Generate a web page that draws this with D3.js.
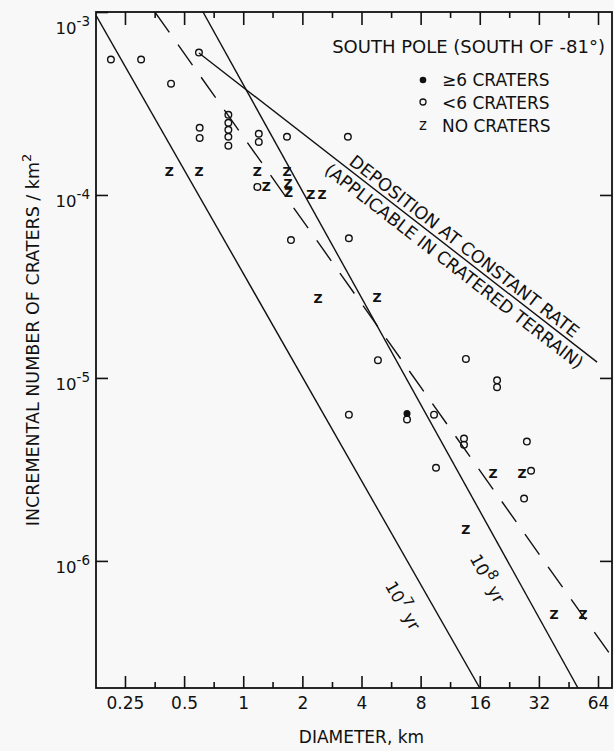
<!DOCTYPE html>
<html>
<head>
<meta charset="utf-8">
<script src="https://cdn.jsdelivr.net/npm/d3@7"></script>
<style>
  body { margin: 0; background: #f8f8f8; }
  figure { margin: 0; }
  svg { display: block; font-family: "DejaVu Sans", sans-serif; }
  text { fill: #111; }
</style>
</head>
<body>
<figure></figure>
<script>
// diameter (km) ticks, bottom and top
const diamTicks = [0.25, 0.5, 1, 2, 4, 8, 16, 32, 64]
const diamLabels = ["0.25", "0.5", "1", "2", "4", "8", "16", "32", "64"]
const diamMinor = [0.354, 0.707, 1.41, 2.83, 5.66, 11.3, 22.6, 45.3]
// incremental number of craters per km^2
const countTicks = [1e-3, 1e-4, 1e-5, 1e-6]
const countExp = ["-3", "-4", "-5", "-6"]

// [diameter, number]
const fewCraters = [
  [0.212, 5.5e-4], [0.302, 5.5e-4], [0.429, 4.06e-4], [0.595, 6.0e-4],
  [0.60, 2.33e-4], [0.60, 2.05e-4],
  [0.84, 2.74e-4], [0.84, 2.48e-4], [0.84, 2.27e-4], [0.84, 2.08e-4], [0.84, 1.86e-4],
  [1.20, 2.16e-4], [1.20, 1.95e-4], [1.67, 2.08e-4], [1.18, 1.106e-4],
  [1.75, 5.67e-5], [3.41, 2.08e-4], [3.45, 5.8e-5],
  [4.85, 1.25e-5], [13.6, 1.27e-5], [19.6, 9.7e-6], [19.6, 8.9e-6],
  [3.45, 6.3e-6], [6.82, 5.93e-6], [9.36, 6.3e-6],
  [13.3, 4.66e-6], [13.3, 4.32e-6], [27.8, 4.49e-6],
  [9.58, 3.23e-6], [29.2, 3.11e-6], [26.9, 2.19e-6]
]
const manyCraters = [[6.82, 6.39e-6]]
const noCraters = [
  [0.42, 1.35e-4], [0.595, 1.34e-4], [1.18, 1.34e-4], [1.31, 1.106e-4],
  [1.67, 1.34e-4], [1.69, 1.16e-4], [1.70, 1.03e-4], [2.21, 1.0e-4], [2.52, 1.0e-4],
  [2.40, 2.73e-5], [4.80, 2.75e-5],
  [18.7, 3.0e-6], [26.3, 3.0e-6], [13.6, 1.48e-6],
  [38.2, 5.1e-7], [53.7, 5.1e-7]
]

// reference lines, two end points each
const age7 = [[0.178, 9.6e-4], [16, 2.02e-7]]
const age8 = [[0.624, 1e-3], [50.6, 2.02e-7]]
const dataFit = [[0.355, 1e-3], [75.3, 2.99e-7]]
const deposition = [[0.595, 5.97e-4], [63.3, 1.22e-5]]

const W = 614, H = 751,
    margin = {top: 12, right: 2, bottom: 63, left: 96},
    width = W - margin.left - margin.right,
    height = H - margin.top - margin.bottom

const svg = d3.select("figure").append("svg")
    .attr("xmlns", "http://www.w3.org/2000/svg")
    .attr("width", W).attr("height", H)
    .attr("viewBox", `0 0 ${W} ${H}`)

const chart = svg.append("g").attr("transform", `translate(${margin.left},${margin.top})`)

const x = d3.scaleLog().base(2).domain([0.178, 75.4]).range([0, width]),
    y = d3.scaleLog().domain([2.02e-7, 1e-3]).range([height, 0])

chart.append("clipPath").attr("id", "plot")
    .append("rect").attr("width", width).attr("height", height)

// axes, ticks pointing inward
const axes = [
    [d3.axisBottom(x).tickValues(diamTicks).tickSize(-12).tickPadding(9).tickFormat((d, i) => diamLabels[i]), `translate(0,${height})`],
    [d3.axisBottom(x).tickValues(diamMinor).tickSize(-6).tickFormat(""), `translate(0,${height})`],
    [d3.axisTop(x).tickValues(diamTicks).tickSize(-13).tickFormat(""), null],
    [d3.axisTop(x).tickValues(diamMinor).tickSize(-6).tickFormat(""), null],
    [d3.axisLeft(y).tickValues(countTicks).tickSize(-12).tickFormat(""), null],
    [d3.axisRight(y).tickValues(countTicks.slice(1)).tickSize(-12).tickFormat(""), `translate(${width},0)`]
]
for (const [ax, tr] of axes) {
    const g = chart.append("g").call(ax)
    if (tr) g.attr("transform", tr)
    g.selectAll("line").attr("stroke", "#111").attr("stroke-width", 1.6)
    g.selectAll("text").style("font-family", "DejaVu Sans, sans-serif").style("font-size", "17px").attr("fill", "#111")
}
chart.selectAll(".domain").remove()

chart.append("rect")
    .attr("width", width).attr("height", height)
    .attr("fill", "none").attr("stroke", "#111").attr("stroke-width", 1.8)

// y tick labels as 10^n
const yLabels = chart.append("g").selectAll("text")
    .data(countTicks)
    .enter().append("text")
    .attr("x", -6)
    .attr("y", (d, i) => y(d) + (i == 0 ? 22 : 12))
    .attr("text-anchor", "end")
    .style("font-size", "16.5px")
yLabels.append("tspan").text("10")
yLabels.append("tspan").text((d, i) => countExp[i]).attr("dy", -8).style("font-size", "13.5px")

// lines
const line = d3.line().x(d => x(d[0])).y(d => y(d[1]))
const lines = chart.append("g").attr("clip-path", "url(#plot)")
    .attr("fill", "none").attr("stroke", "#111").attr("stroke-width", 1.4)
lines.append("path").attr("d", line(age7))
lines.append("path").attr("d", line(age8))
lines.append("path").attr("d", line(deposition))
lines.append("path").attr("d", line(dataFit)).attr("stroke-dasharray", "25,15")

// point and angle at fraction t along a line
function along(pts, t) {
    const x0 = x(pts[0][0]), y0 = y(pts[0][1]), x1 = x(pts[1][0]), y1 = y(pts[1][1])
    return {
        x: x0 + (x1 - x0) * t,
        y: y0 + (y1 - y0) * t,
        a: Math.atan2(y1 - y0, x1 - x0) * 180 / Math.PI
    }
}

for (const [pts, t, exp] of [[age7, 0.824, "7"], [age8, 0.785, "8"]]) {
    const p = along(pts, t)
    const lbl = chart.append("text")
        .attr("transform", `translate(${p.x},${p.y}) rotate(${p.a})`)
        .attr("y", 32)
        .style("font-size", "17px")
    lbl.append("tspan").text("10")
    lbl.append("tspan").text(exp).attr("dy", -8).style("font-size", "14px")
    lbl.append("tspan").text(" yr").attr("dy", 8)
}

{
    const p1 = along(deposition, 0.651), p2 = along(deposition, 0.659)
    chart.append("text")
        .attr("transform", `translate(${p1.x},${p1.y}) rotate(${p1.a})`)
        .attr("y", -4)
        .attr("text-anchor", "middle")
        .style("font-size", "17.5px")
        .text("DEPOSITION AT CONSTANT RATE")
    chart.append("text")
        .attr("transform", `translate(${p2.x},${p2.y}) rotate(${p2.a})`)
        .attr("y", 18)
        .attr("text-anchor", "middle")
        .style("font-size", "17.5px")
        .text("(APPLICABLE IN CRATERED TERRAIN)")
}

// markers
chart.append("g").selectAll("circle")
    .data(fewCraters)
    .enter().append("circle")
    .attr("cx", d => x(d[0])).attr("cy", d => y(d[1])).attr("r", 3.3)
    .attr("fill", "none").attr("stroke", "#111").attr("stroke-width", 1.4)

chart.append("g").selectAll("circle")
    .data(manyCraters)
    .enter().append("circle")
    .attr("cx", d => x(d[0])).attr("cy", d => y(d[1])).attr("r", 3.5)
    .attr("fill", "#111")

chart.append("g").selectAll("text")
    .data(noCraters)
    .enter().append("text")
    .attr("x", d => x(d[0])).attr("y", d => y(d[1]))
    .attr("dy", "0.36em")
    .attr("text-anchor", "middle")
    .style("font-size", "12.5px").style("font-weight", "bold")
    .text("Z")

// legend
svg.append("text")
    .attr("x", 605).attr("y", 53)
    .attr("text-anchor", "end")
    .style("font-size", "18px")
    .text("SOUTH POLE (SOUTH OF -81°)")

const legend = svg.append("g").attr("transform", "translate(423,0)")
legend.append("circle").attr("cx", 0).attr("cy", 80).attr("r", 3.3).attr("fill", "#111")
legend.append("circle").attr("cx", 0).attr("cy", 102).attr("r", 3).attr("fill", "none").attr("stroke", "#111").attr("stroke-width", 1.3)
legend.append("text").attr("x", 0).attr("y", 130).attr("text-anchor", "middle").style("font-size", "15px").text("z")
legend.selectAll("text.item")
    .data(["≥6 CRATERS", "<6 CRATERS", "NO CRATERS"])
    .enter().append("text").classed("item", true)
    .attr("x", 19).attr("y", (d, i) => 86 + i * 23)
    .style("font-size", "17px")
    .text(d => d)

// axis titles
svg.append("text")
    .attr("x", margin.left + x(4)).attr("y", 743)
    .attr("text-anchor", "middle")
    .style("font-size", "17px")
    .text("DIAMETER, km")

const yTitle = svg.append("text")
    .attr("transform", "translate(39,340) rotate(-90)")
    .attr("text-anchor", "middle")
    .style("font-size", "17.5px")
yTitle.append("tspan").text("INCREMENTAL NUMBER OF CRATERS / km")
yTitle.append("tspan").text("2").attr("dy", -8).style("font-size", "13px")
</script>
</body>
</html>
